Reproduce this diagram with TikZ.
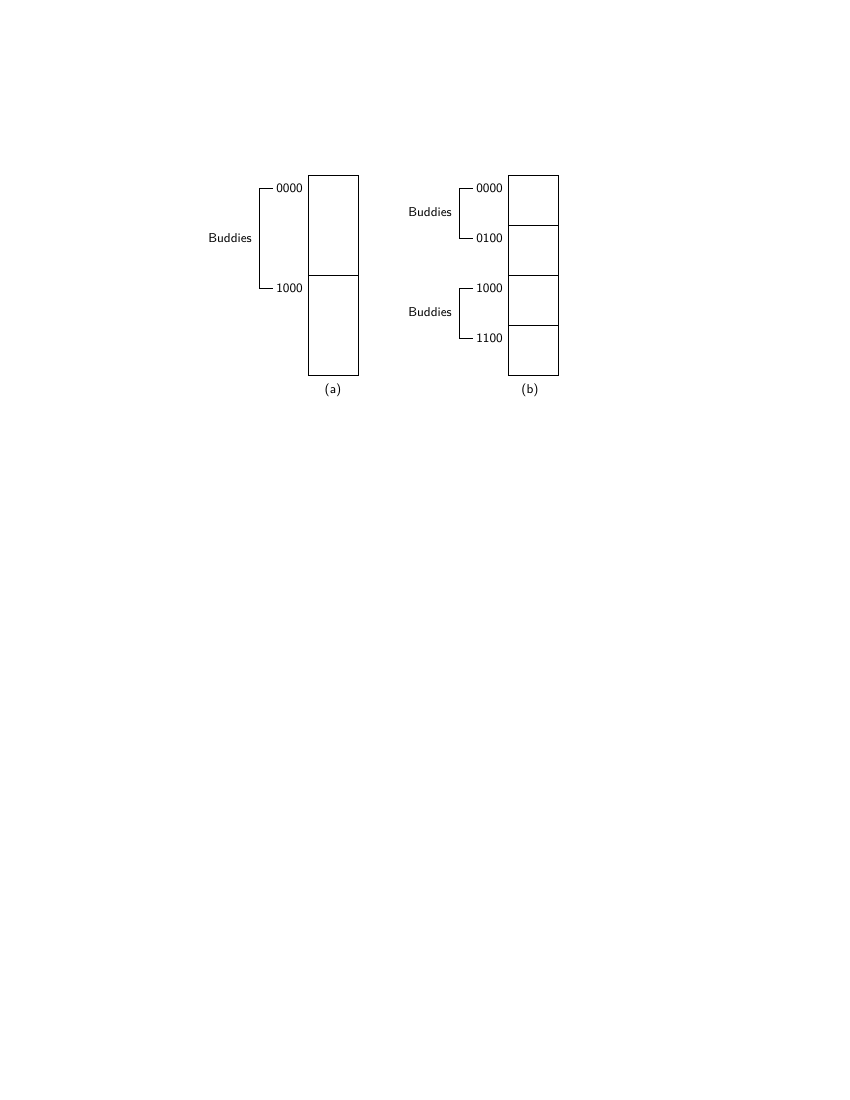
\documentclass[tikz,border=0pt]{standalone}
\usepackage{tikz}
\usetikzlibrary{positioning,calc}
\tikzset{
  cell/.style={draw, line width=0.7pt, minimum width=12.7mm, inner sep=0pt, outer sep=0pt},
  addr/.style={font=\sffamily\fontsize{9.3}{11}\selectfont, inner sep=0pt, anchor=west},
  pair/.style={font=\sffamily\fontsize{9.3}{11}\selectfont, inner sep=0pt, anchor=east},
  brk/.style={line width=0.7pt}
}
\begin{document}
\begin{tikzpicture}[x=0.254mm, y=-0.254mm]
\useasboundingbox (0,0) rectangle (850,1100);
% (a) two halves
\node[cell, minimum height=25.4mm, anchor=north west] (a0) at (308,175) {};
\node[cell, minimum height=25.4mm, below=0pt of a0] (a1) {};
\node[addr] (la0) at (276,188) {0000};
\node[addr] (la1) at (276,288) {1000};
\draw[brk] ([xshift=-0.7mm]la0.west) -- ++(-14,0) |- ([xshift=-0.7mm]la1.west);
\node[pair] (ba) at (252,238) {Buddies};
\node[font=\sffamily\fontsize{9.3}{11}\selectfont] (capa) at (333,390) {(a)};
% (b) four quarters
\node[cell, minimum height=12.7mm, anchor=north west] (b0) at (508,175) {};
\foreach \i [remember=\i as \j (initially 0)] in {1,2,3}
  \node[cell, minimum height=12.7mm, below=0pt of b\j] (b\i) {};
\node[addr] (lb0) at (476,188) {0000};
\node[addr] (lb1) at (476,238) {0100};
\node[addr] (lb2) at (476,288) {1000};
\node[addr] (lb3) at (476,338) {1100};
\draw[brk] ([xshift=-0.7mm]lb0.west) -- ++(-14,0) |- ([xshift=-0.7mm]lb1.west);
\draw[brk] ([xshift=-0.7mm]lb2.west) -- ++(-14,0) |- ([xshift=-0.7mm]lb3.west);
\node[pair] (bb0) at (452,212) {Buddies};
\node[pair] (bb1) at (452,312) {Buddies};
\node[font=\sffamily\fontsize{9.3}{11}\selectfont] (capb) at (530,390) {(b)};
\end{tikzpicture}
\end{document}
